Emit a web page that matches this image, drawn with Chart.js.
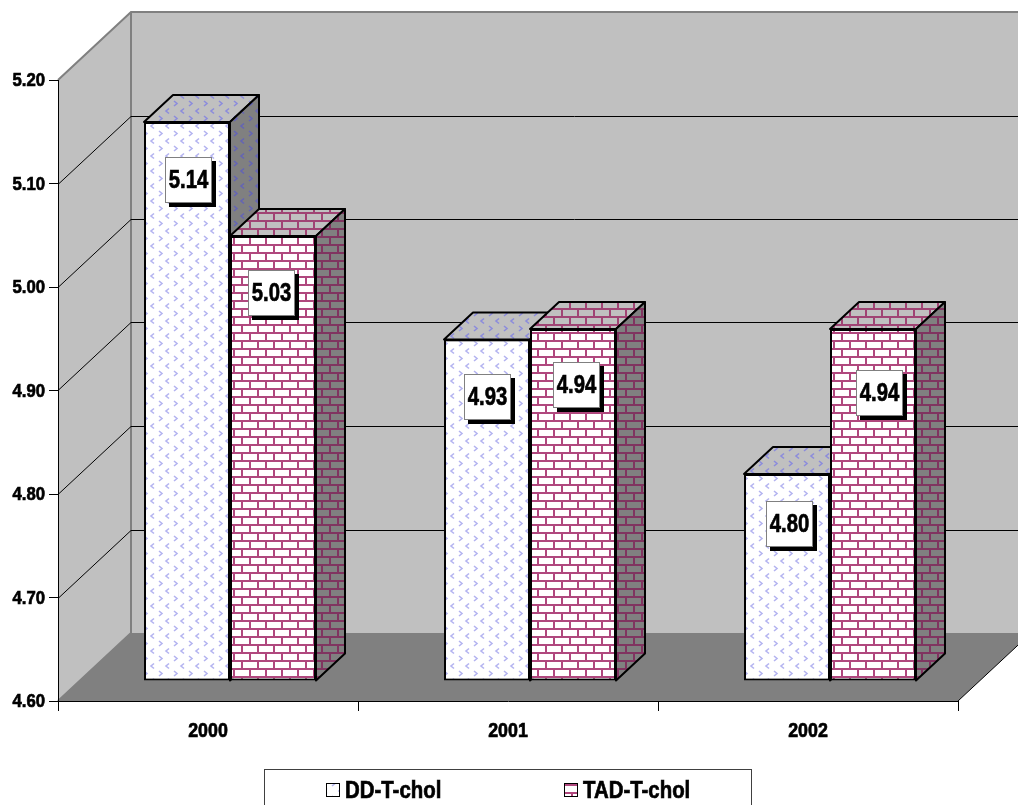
<!DOCTYPE html>
<html>
<head>
<meta charset="utf-8">
<title>DD-T-chol / TAD-T-chol</title>
<script src="https://cdn.jsdelivr.net/npm/chart.js@4"></script>
<style>
    html, body { margin: 0; padding: 0; background: #fff; overflow: hidden; }
    #grafico { display: block; }
</style>
</head>
<body>
<canvas id="grafico" width="1018" height="805"></canvas>
<script>
const categorias = ['2000', '2001', '2002'];
const valoresDD = [5.14, 4.93, 4.80];
const valoresTAD = [5.03, 4.94, 4.94];
const nomesSeries = ['DD-T-chol', 'TAD-T-chol'];
const escalaMin = 4.6;
const escalaMax = 5.2;
const escalaPasso = 0.1;

const fonte = '"Liberation Sans", Arial, sans-serif';

// perspective offsets, in pixels
const parede = { dx: 73, dy: -68 };
const recuoBarra = { dx: 22, dy: -20 };
const fundoBarra = { dx: 29, dy: -27 };

// small moves of the value boxes, they were dragged by hand on the chart
const ajusteRotulos = [
    [{ x: 1, y: 58 }, { x: 0, y: 58 }, { x: 2, y: 50 }],
    [{ x: -1, y: 57 }, { x: 4, y: 56 }, { x: 7, y: 64 }]
];

function tijolos(fundo, linha) {
    const c = document.createElement('canvas');
    c.width = 16; c.height = 16;
    const g = c.getContext('2d');
    g.fillStyle = fundo;
    g.fillRect(0, 0, 16, 16);
    g.fillStyle = linha;
    g.fillRect(0, 0, 16, 2);
    g.fillRect(0, 8, 16, 2);
    g.fillRect(3, 0, 2, 8);
    g.fillRect(11, 8, 2, 8);
    return g.canvas;
}

function setas(fundo, linha) {
    const c = document.createElement('canvas');
    c.width = 15; c.height = 15;
    const g = c.getContext('2d');
    g.fillStyle = fundo;
    g.fillRect(0, 0, 15, 15);
    g.strokeStyle = linha;
    g.lineWidth = 1.6;
    g.beginPath();
    g.moveTo(2, 1); g.lineTo(5, 3.5); g.lineTo(2, 6);
    g.moveTo(12, 8.5); g.lineTo(9, 11); g.lineTo(12, 13.5);
    g.stroke();
    return g.canvas;
}

const ctx = document.getElementById('grafico').getContext('2d');

const padroes = [
    {
        frente: ctx.createPattern(setas('#ffffff', '#b4b4f0'), 'repeat'),
        topo: ctx.createPattern(setas('#c0c0c0', '#8c8cdc'), 'repeat'),
        lado: ctx.createPattern(setas('#808080', '#6464b4'), 'repeat')
    },
    {
        frente: ctx.createPattern(tijolos('#ffffff', '#b0487e'), 'repeat'),
        topo: ctx.createPattern(tijolos('#c0c0c0', '#a04474'), 'repeat'),
        lado: ctx.createPattern(tijolos('#808080', '#803460'), 'repeat')
    }
];

function poligono(g, pontos, preenchimento, traco, largura) {
    g.beginPath();
    pontos.forEach(function (p, i) {
        if (i === 0) g.moveTo(p[0], p[1]); else g.lineTo(p[0], p[1]);
    });
    g.closePath();
    if (preenchimento) { g.fillStyle = preenchimento; g.fill(); }
    if (traco) { g.strokeStyle = traco; g.lineWidth = largura; g.stroke(); }
}

// the fonts on hand have no narrow cut, so the text is squeezed sideways
function textoEstreito(g, texto, x, y, tamanho, aperto, alinhar) {
    g.save();
    g.translate(x, y);
    g.scale(aperto, 1);
    g.font = 'bold ' + tamanho + 'px ' + fonte;
    g.fillStyle = '#000000';
    g.strokeStyle = '#000000';
    g.lineWidth = 0.7;
    g.textAlign = alinhar;
    g.textBaseline = 'middle';
    g.fillText(texto, 0, 0);
    g.strokeText(texto, 0, 0);
    g.restore();
}

// side wall, back wall, floor and the grid lines that run over them
const cenario = {
    id: 'cenario',
    beforeDraw(chart) {
        const g = chart.ctx;
        const a = chart.chartArea;
        const y = chart.scales.y;
        g.save();
        g.fillStyle = '#ffffff';
        g.fillRect(0, 0, chart.width, chart.height);

        poligono(g, [[a.left + parede.dx, a.top + parede.dy], [chart.width, a.top + parede.dy],
            [chart.width, a.bottom + parede.dy], [a.left + parede.dx, a.bottom + parede.dy]], '#c0c0c0');
        poligono(g, [[a.left, a.top], [a.left + parede.dx, a.top + parede.dy],
            [a.left + parede.dx, a.bottom + parede.dy], [a.left, a.bottom]], '#c0c0c0');
        poligono(g, [[a.left, a.bottom], [a.left + parede.dx, a.bottom + parede.dy],
            [a.right + parede.dx, a.bottom + parede.dy], [a.right, a.bottom]], '#808080');

        // grey outline of the walls
        g.strokeStyle = '#808080';
        g.lineWidth = 2;
        g.beginPath();
        g.moveTo(a.left, a.top);
        g.lineTo(a.left + parede.dx, a.top + parede.dy);
        g.lineTo(chart.width, a.top + parede.dy);
        g.moveTo(a.left + parede.dx, a.top + parede.dy);
        g.lineTo(a.left + parede.dx, a.bottom + parede.dy);
        g.lineTo(a.left, a.bottom);
        g.stroke();

        g.strokeStyle = '#000000';
        g.lineWidth = 1;
        g.beginPath();
        y.ticks.forEach(function (t) {
            if (t.value <= escalaMin + 0.001 || t.value >= escalaMax - 0.001) return;
            const py = Math.round(y.getPixelForValue(t.value)) + 0.5;
            g.moveTo(a.left, py);
            g.lineTo(a.left + parede.dx, py + parede.dy);
            g.lineTo(chart.width, py + parede.dy);
        });
        g.moveTo(a.right, a.bottom);
        g.lineTo(chart.width, a.bottom + (chart.width - a.right) * parede.dy / parede.dx);
        g.stroke();
        g.restore();
    }
};

// each bar keeps its library front face, moved back on the floor, plus top and side
const barras3d = {
    id: 'barras3d',
    beforeDatasetDraw() {
        return false;
    },
    afterDatasetsDraw(chart) {
        const g = chart.ctx;
        categorias.forEach(function (c, i) {
            chart.data.datasets.forEach(function (d, s) {
                const el = chart.getDatasetMeta(s).data[i];
                const b = el.getProps(['x', 'y', 'base', 'width'], true);
                const esq = b.x - b.width / 2;
                const dir = b.x + b.width / 2;
                const p = padroes[s];
                g.save();
                g.translate(recuoBarra.dx, recuoBarra.dy);
                el.draw(g);
                g.lineJoin = 'round';
                poligono(g, [[esq, b.y], [esq + fundoBarra.dx, b.y + fundoBarra.dy],
                    [dir + fundoBarra.dx, b.y + fundoBarra.dy], [dir, b.y]], p.topo, '#000000', 2);
                poligono(g, [[dir, b.y], [dir + fundoBarra.dx, b.y + fundoBarra.dy],
                    [dir + fundoBarra.dx, b.base + fundoBarra.dy], [dir, b.base]], p.lado, '#000000', 2);
                g.restore();
            });
        });
    }
};

// white value boxes with a hard black shadow
const rotulos = {
    id: 'rotulos',
    afterDatasetsDraw(chart) {
        const g = chart.ctx;
        chart.data.datasets.forEach(function (d, s) {
            chart.getDatasetMeta(s).data.forEach(function (el, i) {
                const aj = ajusteRotulos[s][i];
                const cx = el.x + recuoBarra.dx + aj.x;
                const cy = el.y + recuoBarra.dy + aj.y;
                const l = 47, h = 46;
                const x0 = Math.round(cx - l / 2);
                const y0 = Math.round(cy - h / 2);
                g.save();
                g.fillStyle = '#000000';
                g.fillRect(x0 + 4, y0 + 4, l, h);
                g.fillStyle = '#ffffff';
                g.fillRect(x0, y0, l, h);
                g.strokeStyle = '#808080';
                g.lineWidth = 1;
                g.strokeRect(x0 + 0.5, y0 + 0.5, l - 1, h - 1);
                g.restore();
                textoEstreito(g, d.data[i].toFixed(2), x0 + l / 2, y0 + h / 2 + 1, 26, 0.78, 'center');
            });
        });
    }
};

// axis labels, same text and positions the scales worked out
const rotulosEixos = {
    id: 'rotulosEixos',
    afterDraw(chart) {
        const g = chart.ctx;
        const x = chart.scales.x;
        const y = chart.scales.y;
        x.ticks.forEach(function (t, i) {
            textoEstreito(g, x.getLabelForValue(t.value), x.getPixelForTick(i), x.bottom - 74, 21, 0.85, 'center');
        });
        y.ticks.forEach(function (t, i) {
            textoEstreito(g, Number(t.value).toFixed(2), y.right - 13, y.getPixelForTick(i) + 1, 19, 0.88, 'right');
        });
    }
};

// legend frame runs off the bottom of the page
const legendaQuadro = {
    id: 'legendaQuadro',
    afterDraw(chart) {
        const g = chart.ctx;
        const posicoes = [326, 564];
        g.save();
        g.strokeStyle = '#404040';
        g.lineWidth = 1;
        g.strokeRect(264.5, 769.5, 487, 60);
        chart.data.datasets.forEach(function (d, s) {
            const px = posicoes[s];
            g.fillStyle = padroes[s].frente;
            g.fillRect(px, 783, 13, 14);
            g.strokeStyle = '#000000';
            g.lineWidth = 1;
            g.strokeRect(px + 0.5, 783.5, 13, 13);
            textoEstreito(g, d.label, px + 19, 791, 24, 0.85, 'left');
        });
        g.restore();
    }
};

new Chart(ctx, {
    type: 'bar',
    data: {
        labels: categorias,
        datasets: [
            {
                label: nomesSeries[0],
                data: valoresDD,
                base: escalaMin,
                backgroundColor: padroes[0].frente,
                borderColor: '#000000',
                borderWidth: 2,
                borderSkipped: false
            },
            {
                label: nomesSeries[1],
                data: valoresTAD,
                base: escalaMin,
                backgroundColor: padroes[1].frente,
                borderColor: '#000000',
                borderWidth: 2,
                borderSkipped: false
            }
        ]
    },
    options: {
        responsive: false,
        animation: false,
        categoryPercentage: 0.5733,
        barPercentage: 1,
        layout: { padding: { top: 80, right: 60, left: 0, bottom: 0 } },
        plugins: { legend: { display: false }, tooltip: { enabled: false } },
        scales: {
            x: {
                afterFit(escala) { escala.height = 104; },
                border: { display: true, color: '#000000', width: 1 },
                grid: { drawOnChartArea: false, color: '#000000', tickLength: 10 },
                ticks: { display: false }
            },
            y: {
                min: escalaMin,
                max: escalaMax,
                afterFit(escala) { escala.width = 58; },
                border: { display: true, color: '#000000', width: 1 },
                grid: { drawOnChartArea: false, color: '#000000', tickLength: 9 },
                ticks: { display: false, stepSize: escalaPasso }
            }
        }
    },
    plugins: [cenario, barras3d, rotulos, rotulosEixos, legendaQuadro]
});
</script>
</body>
</html>
